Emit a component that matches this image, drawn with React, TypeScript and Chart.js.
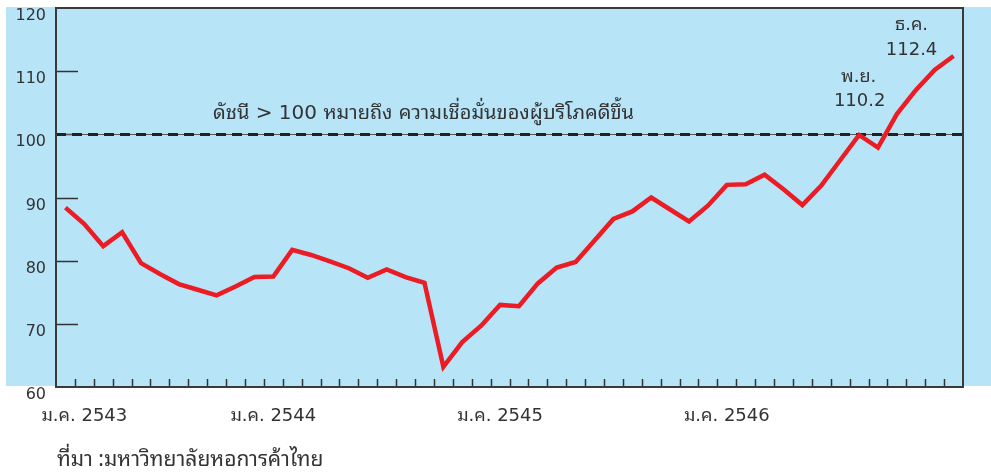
import React, { useEffect, useRef } from 'react';
import { Chart, registerables } from 'chart.js';

Chart.register(...registerables);

// ---- data ----
const monthNames = ['ม.ค.', 'ก.พ.', 'มี.ค.', 'เม.ย.', 'พ.ค.', 'มิ.ย.', 'ก.ค.', 'ส.ค.', 'ก.ย.', 'ต.ค.', 'พ.ย.', 'ธ.ค.'];
const years = ['2543', '2544', '2545', '2546'];
const categories = years.flatMap((y) => monthNames.map((m) => `${m} ${y}`));

const consumerIndex = [
  88.4, 85.8, 82.3, 84.5, 79.6, 77.9, 76.3, 75.4, 74.5, 75.9, 77.4, 77.5,
  81.7, 80.9, 79.9, 78.8, 77.3, 78.6, 77.4, 76.5, 63.2, 67.1, 69.7, 73.0,
  72.8, 76.4, 78.9, 79.8, 83.2, 86.6, 87.8, 90.0, 88.1, 86.2, 88.7, 92.0,
  92.1, 93.6, 91.3, 88.8, 91.9, 95.9, 99.9, 97.9, 103.2, 107.0, 110.2, 112.4,
];

const xLabelIndex = [1, 11, 23, 35];
const xLabelText = ['ม.ค. 2543', 'ม.ค. 2544', 'ม.ค. 2545', 'ม.ค. 2546'];
const yMin = 60;
const yMax = 120;
const yStep = 10;
const yInnerTicks = [70, 80, 90, 100, 110];
const thresholdValue = 100;
const thresholdText = 'ดัชนี > 100 หมายถึง ความเชื่อมั่นของผู้บริโภคดีขึ้น';
const novLabel = ['พ.ย.', '110.2'];
const decLabel = ['ธ.ค.', '112.4'];
const sourceText = 'ที่มา :มหาวิทยาลัยหอการค้าไทย';

const THAI = "'Noto Sans Thai Looped', 'Garuda', 'Loma', 'Noto Sans Thai', sans-serif";
const MIXED = `'DejaVu Sans', ${THAI}`;
const TEXT = '#333333';
const BLUE = '#b8e4f8';
const RED = '#ec1c24';

const decorPlugin = {
  id: 'decor',
  beforeDraw(chart: any) {
    const { ctx, chartArea: a, width } = chart;
    ctx.save();
    ctx.fillStyle = BLUE;
    ctx.fillRect(a.left - 50, a.top - 1, width - (a.left - 50), a.bottom - a.top);
    ctx.restore();
  },
  beforeDatasetsDraw(chart: any) {
    const { ctx, chartArea: a, scales } = chart;
    const ys = scales.y;
    const xs = scales.x;
    ctx.save();
    ctx.strokeStyle = '#333';
    ctx.lineWidth = 1.5;
    yInnerTicks.forEach((v) => {
      const y = Math.round(ys.getPixelForValue(v)) + 0.5;
      ctx.beginPath();
      ctx.moveTo(a.left, y);
      ctx.lineTo(a.left + 22, y);
      ctx.stroke();
    });
    for (let i = 0; i < categories.length - 1; i++) {
      const x = Math.round((xs.getPixelForValue(i) + xs.getPixelForValue(i + 1)) / 2) + 0.5;
      ctx.beginPath();
      ctx.moveTo(x, a.bottom);
      ctx.lineTo(x, a.bottom - 8);
      ctx.stroke();
    }
    const ty = Math.round(ys.getPixelForValue(thresholdValue)) + 0.5;
    ctx.strokeStyle = '#555';
    ctx.lineWidth = 1;
    ctx.beginPath();
    ctx.moveTo(a.left, ty);
    ctx.lineTo(a.right, ty);
    ctx.stroke();
    ctx.strokeStyle = '#222';
    ctx.lineWidth = 3;
    ctx.setLineDash([10, 6]);
    ctx.beginPath();
    ctx.moveTo(a.left, ty);
    ctx.lineTo(a.right, ty);
    ctx.stroke();
    ctx.setLineDash([]);
    ctx.restore();
  },
  afterDraw(chart: any) {
    const { ctx, chartArea: a, scales } = chart;
    const ys = scales.y;
    ctx.save();
    ctx.strokeStyle = '#3a3a3a';
    ctx.lineWidth = 2;
    ctx.strokeRect(a.left, a.top, a.right - a.left, a.bottom - a.top);
    ctx.fillStyle = TEXT;
    ctx.textBaseline = 'middle';
    ctx.textAlign = 'left';
    ctx.font = `20px ${MIXED}`;
    ctx.fillText(thresholdText, a.left + 157, ys.getPixelForValue(thresholdValue) - 21);
    const meta = chart.getDatasetMeta(0);
    const nov = meta.data[consumerIndex.length - 2];
    const dec = meta.data[consumerIndex.length - 1];
    ctx.textAlign = 'center';
    ctx.font = `18px ${MIXED}`;
    ctx.fillText(novLabel[0], nov.x - 76, nov.y + 7);
    ctx.fillText(novLabel[1], nov.x - 75, nov.y + 31);
    ctx.fillText(decLabel[0], dec.x - 42, dec.y - 31);
    ctx.fillText(decLabel[1], dec.x - 42, dec.y - 6);
    ctx.textAlign = 'left';
    ctx.font = `21px ${THAI}`;
    ctx.fillText(sourceText, a.left + 1, a.bottom + 73);
    ctx.restore();
  },
};

export default function App() {
  const ref = useRef<HTMLCanvasElement | null>(null);

  useEffect(() => {
    if (!ref.current) return;
    const chart = new Chart(ref.current, {
      type: 'line',
      data: {
        labels: categories,
        datasets: [
          {
            data: consumerIndex,
            borderColor: RED,
            borderWidth: 4.5,
            pointRadius: 0,
            tension: 0,
            fill: false,
            borderJoinStyle: 'miter',
          },
        ],
      },
      options: {
        animation: false,
        responsive: false,
        layout: { padding: { top: 8, right: 28, left: 0, bottom: 0 } },
        plugins: {
          legend: { display: false },
          tooltip: { enabled: false },
          title: { display: false },
        },
        scales: {
          x: {
            type: 'category',
            offset: true,
            grid: { display: false, drawTicks: false },
            border: { display: false },
            afterFit: (s: any) => {
              s.height = 85;
              s.paddingLeft = 0;
              s.paddingRight = 0;
            },
            ticks: {
              autoSkip: false,
              maxRotation: 0,
              minRotation: 0,
              padding: 19,
              color: TEXT,
              font: { size: 18, family: MIXED },
              callback: (_v: any, idx: number) => {
                const k = xLabelIndex.indexOf(idx);
                return k >= 0 ? xLabelText[k] : '';
              },
            },
          },
          y: {
            min: yMin,
            max: yMax,
            grid: { display: false, drawTicks: false },
            border: { display: false },
            afterFit: (s: any) => {
              s.width = 56;
              s.paddingTop = 0;
              s.paddingBottom = 0;
            },
            ticks: {
              stepSize: yStep,
              padding: 10,
              labelOffset: 8,
              color: TEXT,
              font: { size: 16, family: MIXED },
            },
          },
        },
      },
      plugins: [decorPlugin],
    } as any);
    return () => chart.destroy();
  }, []);

  return (
    <div style={{ position: 'fixed', left: 0, top: 0, width: 991, height: 472, background: '#fff' }}>
      <canvas ref={ref} width={991} height={472} style={{ display: 'block' }} />
    </div>
  );
}
